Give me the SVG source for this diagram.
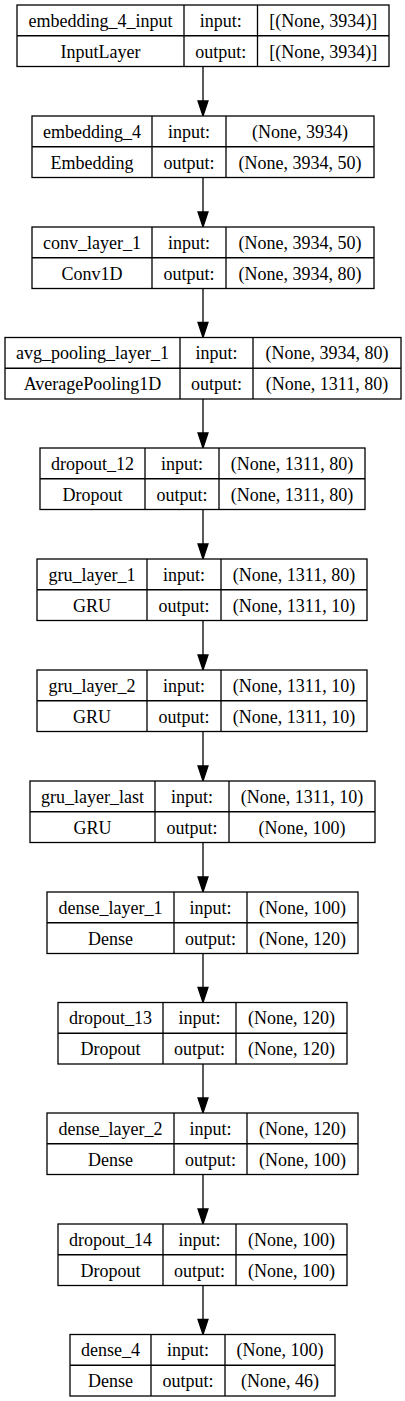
<svg xmlns="http://www.w3.org/2000/svg" width="405" height="1401" viewBox="0 0 405 1401">
<style>
.b{fill:#fff;stroke:#000;stroke-width:1.3}
.l{stroke:#000;stroke-width:1.3;fill:none}
.t{font-family:"Liberation Serif","Times New Roman",serif;font-size:18px;fill:#000;text-anchor:middle}
.a{fill:#000;stroke:#000;stroke-width:1.3}
</style>
<rect width="405" height="1401" fill="#fff"/>
<g id="connectors">
<line class="l" x1="203" y1="66.5" x2="203" y2="101"/><polygon class="a" points="198,101 208,101 203,116"/>
<line class="l" x1="203" y1="177.5" x2="203" y2="212"/><polygon class="a" points="198,212 208,212 203,227"/>
<line class="l" x1="203" y1="288.5" x2="203" y2="322.5"/><polygon class="a" points="198,322.5 208,322.5 203,337.5"/>
<line class="l" x1="203" y1="399" x2="203" y2="433"/><polygon class="a" points="198,433 208,433 203,448"/>
<line class="l" x1="203" y1="509.5" x2="203" y2="544"/><polygon class="a" points="198,544 208,544 203,559"/>
<line class="l" x1="203" y1="620.5" x2="203" y2="655"/><polygon class="a" points="198,655 208,655 203,670"/>
<line class="l" x1="203" y1="731.5" x2="203" y2="766"/><polygon class="a" points="198,766 208,766 203,781"/>
<line class="l" x1="203" y1="842.5" x2="203" y2="877"/><polygon class="a" points="198,877 208,877 203,892"/>
<line class="l" x1="203" y1="953.5" x2="203" y2="987.5"/><polygon class="a" points="198,987.5 208,987.5 203,1002.5"/>
<line class="l" x1="203" y1="1064" x2="203" y2="1098"/><polygon class="a" points="198,1098 208,1098 203,1113"/>
<line class="l" x1="203" y1="1174.5" x2="203" y2="1209"/><polygon class="a" points="198,1209 208,1209 203,1224"/>
<line class="l" x1="203" y1="1285.5" x2="203" y2="1319.5"/><polygon class="a" points="198,1319.5 208,1319.5 203,1334.5"/>
</g>
<g id="n1">
<rect class="b" x="17" y="5" width="372" height="61.5"/>
<path class="l" d="M17 35.75H389M184 5V66.5M257.5 5V66.5"/>
<text class="t" x="100.5" y="26.5">embedding_4_input</text>
<text class="t" x="100.5" y="57.5">InputLayer</text>
<text class="t" x="220.75" y="26.5">input:</text>
<text class="t" x="220.75" y="57.5">output:</text>
<text class="t" x="323.25" y="26.5">[(None, 3934)]</text>
<text class="t" x="323.25" y="57.5">[(None, 3934)]</text>
</g>
<g id="n2">
<rect class="b" x="32" y="116" width="342" height="61.5"/>
<path class="l" d="M32 146.75H374M152 116V177.5M226 116V177.5"/>
<text class="t" x="92" y="137.5">embedding_4</text>
<text class="t" x="92" y="168.5">Embedding</text>
<text class="t" x="189" y="137.5">input:</text>
<text class="t" x="189" y="168.5">output:</text>
<text class="t" x="300" y="137.5">(None, 3934)</text>
<text class="t" x="300" y="168.5">(None, 3934, 50)</text>
</g>
<g id="n3">
<rect class="b" x="32" y="227" width="342" height="61.5"/>
<path class="l" d="M32 257.75H374M152 227V288.5M226 227V288.5"/>
<text class="t" x="92" y="248.5">conv_layer_1</text>
<text class="t" x="92" y="279.5">Conv1D</text>
<text class="t" x="189" y="248.5">input:</text>
<text class="t" x="189" y="279.5">output:</text>
<text class="t" x="300" y="248.5">(None, 3934, 50)</text>
<text class="t" x="300" y="279.5">(None, 3934, 80)</text>
</g>
<g id="n4">
<rect class="b" x="5" y="337.5" width="396" height="61.5"/>
<path class="l" d="M5 368.25H401M180 337.5V399M253 337.5V399"/>
<text class="t" x="92.5" y="359">avg_pooling_layer_1</text>
<text class="t" x="92.5" y="390">AveragePooling1D</text>
<text class="t" x="216.5" y="359">input:</text>
<text class="t" x="216.5" y="390">output:</text>
<text class="t" x="327" y="359">(None, 3934, 80)</text>
<text class="t" x="327" y="390">(None, 1311, 80)</text>
</g>
<g id="n5">
<rect class="b" x="40" y="448" width="325" height="61.5"/>
<path class="l" d="M40 478.75H365M145 448V509.5M219 448V509.5"/>
<text class="t" x="92.5" y="469.5">dropout_12</text>
<text class="t" x="92.5" y="500.5">Dropout</text>
<text class="t" x="182" y="469.5">input:</text>
<text class="t" x="182" y="500.5">output:</text>
<text class="t" x="292" y="469.5">(None, 1311, 80)</text>
<text class="t" x="292" y="500.5">(None, 1311, 80)</text>
</g>
<g id="n6">
<rect class="b" x="37" y="559" width="330" height="61.5"/>
<path class="l" d="M37 589.75H367M147 559V620.5M221 559V620.5"/>
<text class="t" x="92" y="580.5">gru_layer_1</text>
<text class="t" x="92" y="611.5">GRU</text>
<text class="t" x="184" y="580.5">input:</text>
<text class="t" x="184" y="611.5">output:</text>
<text class="t" x="294" y="580.5">(None, 1311, 80)</text>
<text class="t" x="294" y="611.5">(None, 1311, 10)</text>
</g>
<g id="n7">
<rect class="b" x="37" y="670" width="330" height="61.5"/>
<path class="l" d="M37 700.75H367M147 670V731.5M221 670V731.5"/>
<text class="t" x="92" y="691.5">gru_layer_2</text>
<text class="t" x="92" y="722.5">GRU</text>
<text class="t" x="184" y="691.5">input:</text>
<text class="t" x="184" y="722.5">output:</text>
<text class="t" x="294" y="691.5">(None, 1311, 10)</text>
<text class="t" x="294" y="722.5">(None, 1311, 10)</text>
</g>
<g id="n8">
<rect class="b" x="30" y="781" width="345" height="61.5"/>
<path class="l" d="M30 811.75H375M155 781V842.5M229 781V842.5"/>
<text class="t" x="92.5" y="802.5">gru_layer_last</text>
<text class="t" x="92.5" y="833.5">GRU</text>
<text class="t" x="192" y="802.5">input:</text>
<text class="t" x="192" y="833.5">output:</text>
<text class="t" x="302" y="802.5">(None, 1311, 10)</text>
<text class="t" x="302" y="833.5">(None, 100)</text>
</g>
<g id="n9">
<rect class="b" x="47" y="892" width="311" height="61.5"/>
<path class="l" d="M47 922.75H358M174 892V953.5M247 892V953.5"/>
<text class="t" x="110.5" y="913.5">dense_layer_1</text>
<text class="t" x="110.5" y="944.5">Dense</text>
<text class="t" x="210.5" y="913.5">input:</text>
<text class="t" x="210.5" y="944.5">output:</text>
<text class="t" x="302.5" y="913.5">(None, 100)</text>
<text class="t" x="302.5" y="944.5">(None, 120)</text>
</g>
<g id="n10">
<rect class="b" x="58" y="1002.5" width="289" height="61.5"/>
<path class="l" d="M58 1033.25H347M163 1002.5V1064M236 1002.5V1064"/>
<text class="t" x="110.5" y="1024">dropout_13</text>
<text class="t" x="110.5" y="1055">Dropout</text>
<text class="t" x="199.5" y="1024">input:</text>
<text class="t" x="199.5" y="1055">output:</text>
<text class="t" x="291.5" y="1024">(None, 120)</text>
<text class="t" x="291.5" y="1055">(None, 120)</text>
</g>
<g id="n11">
<rect class="b" x="47" y="1113" width="311" height="61.5"/>
<path class="l" d="M47 1143.75H358M174 1113V1174.5M247 1113V1174.5"/>
<text class="t" x="110.5" y="1134.5">dense_layer_2</text>
<text class="t" x="110.5" y="1165.5">Dense</text>
<text class="t" x="210.5" y="1134.5">input:</text>
<text class="t" x="210.5" y="1165.5">output:</text>
<text class="t" x="302.5" y="1134.5">(None, 120)</text>
<text class="t" x="302.5" y="1165.5">(None, 100)</text>
</g>
<g id="n12">
<rect class="b" x="58" y="1224" width="289" height="61.5"/>
<path class="l" d="M58 1254.75H347M163 1224V1285.5M236 1224V1285.5"/>
<text class="t" x="110.5" y="1245.5">dropout_14</text>
<text class="t" x="110.5" y="1276.5">Dropout</text>
<text class="t" x="199.5" y="1245.5">input:</text>
<text class="t" x="199.5" y="1276.5">output:</text>
<text class="t" x="291.5" y="1245.5">(None, 100)</text>
<text class="t" x="291.5" y="1276.5">(None, 100)</text>
</g>
<g id="n13">
<rect class="b" x="70" y="1334.5" width="265" height="61.5"/>
<path class="l" d="M70 1365.25H335M151 1334.5V1396M225 1334.5V1396"/>
<text class="t" x="110.5" y="1356">dense_4</text>
<text class="t" x="110.5" y="1387">Dense</text>
<text class="t" x="188" y="1356">input:</text>
<text class="t" x="188" y="1387">output:</text>
<text class="t" x="280" y="1356">(None, 100)</text>
<text class="t" x="280" y="1387">(None, 46)</text>
</g>
</svg>
